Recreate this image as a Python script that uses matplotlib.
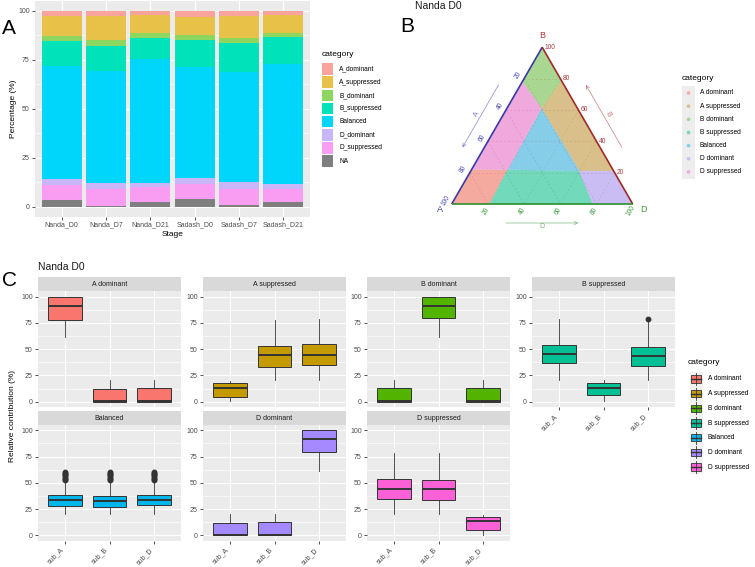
import matplotlib
matplotlib.use("Agg")
import matplotlib.pyplot as plt
import numpy as np
from matplotlib.patches import Polygon, Rectangle, Circle

plt.rcParams['font.family'] = ['Liberation Sans', 'DejaVu Sans']

# ---------------- data ----------------
stages = ["Nanda_D0", "Nanda_D7", "Nanda_D21", "Sadash_D0", "Sadash_D7", "Sadash_D21"]
bar_categories = ["A_dominant", "A_suppressed", "B_dominant", "B_suppressed",
                  "Balanced", "D_dominant", "D_suppressed", "NA"]
bar_colors = ["#F8A39B", "#E8C148", "#8DD760", "#00E3BA", "#00D6FC", "#C9B6F8", "#F99DF3", "#7F7F7F"]
# percentage per category, columns follow stages
pct_A_dominant = [2.7, 2.7, 2.4, 3.2, 2.7, 2.2]
pct_A_suppressed = [10.1, 12.3, 8.8, 9.2, 11.1, 9.0]
pct_B_dominant = [2.7, 2.9, 2.6, 2.6, 2.5, 2.4]
pct_B_suppressed = [12.9, 12.7, 11.0, 13.9, 14.8, 13.8]
pct_Balanced = [57.5, 57.3, 63.1, 56.5, 56.5, 60.9]
pct_D_dominant = [3.2, 3.3, 2.2, 2.9, 3.6, 2.9]
pct_D_suppressed = [7.7, 8.3, 7.3, 7.8, 7.8, 6.2]
pct_NA = [3.2, 0.5, 2.6, 3.9, 1.0, 2.6]
bar_values = [pct_A_dominant, pct_A_suppressed, pct_B_dominant, pct_B_suppressed,
              pct_Balanced, pct_D_dominant, pct_D_suppressed, pct_NA]

# ternary regions, vertices as (A, B, D) percent
tern_categories = ["A dominant", "A suppressed", "B dominant", "B suppressed",
                   "Balanced", "D dominant", "D suppressed"]
tern_colors = ["#F5AA9F", "#D9C08A", "#A9D690", "#72D9BA", "#85CDE9", "#C9BDF3", "#F0A9DC"]
tern_regions = [
    [(100, 0, 0), (78, 22, 0), (58, 22, 20), (79, 0, 21)],
    [(0, 79, 21), (20, 61, 19), (19, 21, 60), (0, 21, 79)],
    [(0, 100, 0), (22, 78, 0), (20, 61, 19), (0, 79, 21)],
    [(79, 0, 21), (58, 22, 20), (19, 21, 60), (22, 0, 78)],
    [(20, 61, 19), (58, 22, 20), (19, 21, 60)],
    [(22, 0, 78), (19, 21, 60), (0, 21, 79), (0, 0, 100)],
    [(22, 78, 0), (20, 61, 19), (58, 22, 20), (78, 22, 0)],
]
tern_ticks = [20, 40, 60, 80, 100]

# box plots
box_panels = ["A dominant", "A suppressed", "B dominant", "B suppressed",
              "Balanced", "D dominant", "D suppressed"]
box_colors = ["#F8766D", "#C49A00", "#53B400", "#00C094", "#00B6EB", "#A58AFF", "#FB61D7"]
subgenomes = ["sub_A", "sub_B", "sub_D"]
box_q1 = [[77.5, 0, 0], [4.8, 33.3, 35.2], [0, 79.4, 0], [36.5, 6.4, 34.3],
          [27.6, 27.3, 28.6], [0, 0, 79.7], [35, 34, 4.8]]
box_med = [[91.4, 1, 0.6], [13.3, 44.5, 44.5], [0.6, 91.1, 0.8], [45.4, 13.3, 43.8],
           [33.3, 32.7, 33.7], [0.5, 0.5, 91.4], [44.1, 44.4, 13.6]]
box_q3 = [[100, 12.1, 13.3], [17.5, 53, 55], [13.3, 100, 13.3], [54, 17.5, 51.8],
          [38.4, 37.8, 38.7], [12.1, 12.7, 100], [54, 53, 17.5]]
box_lo = [[61.6, 0, 0], [0.5, 20.6, 20.6], [0, 61.9, 0], [20.6, 1, 20.6],
          [20, 20, 20], [0, 0, 61.3], [20.6, 20.6, 0.7]]
box_hi = [[100, 20.4, 20.4], [19.7, 77.8, 78.4], [20.4, 100, 20.4], [78.4, 20.4, 76.2],
          [51.7, 52, 52.5], [20, 20, 100], [78.7, 78, 19.7]]
bal_out = [53, 54, 55, 56, 57, 58, 59, 60]
box_out = [[[], [], []], [[], [], []], [[], [], []], [[], [], [79]],
           [bal_out, bal_out, bal_out], [[], [], []], [[], [], []]]

# ---------------- layout helpers ----------------
W, H = 755, 567
fig = plt.figure(figsize=(W / 100, H / 100), dpi=100)


def rect(x0, y0, x1, y1):
    return [x0 / W, 1 - y1 / H, (x1 - x0) / W, (y1 - y0) / H]


TXT = "#4D4D4D"
TICK = "#333333"


def gg_axes(ax):
    ax.set_facecolor("#EBEBEB")
    for s in ax.spines.values():
        s.set_visible(False)
    ax.grid(True, which="major", color="white", lw=0.8, zorder=0)
    ax.grid(True, which="minor", axis="y", color="white", lw=0.4, zorder=0)
    ax.set_axisbelow(True)
    ax.tick_params(which="major", length=2.2, width=0.6, color=TICK,
                   labelsize=5, labelcolor=TXT, pad=1.5)
    ax.tick_params(which="minor", length=0)


# ---------------- panel A ----------------
axA = fig.add_axes(rect(35, 1, 310, 216.5))
gg_axes(axA)
x = np.arange(1, len(stages) + 1)
bottom = np.zeros(len(stages))
for cat, vals, col in list(zip(bar_categories, bar_values, bar_colors))[::-1]:
    axA.bar(x, vals, 0.9, bottom=bottom, color=col, zorder=2, lw=0)
    bottom += np.array(vals)
axA.set_xlim(0.4, 6.6)
axA.set_ylim(-5, 105)
axA.set_xticks(x)
axA.set_xticklabels(stages)
axA.set_yticks([0, 25, 50, 75, 100])
axA.set_yticks([12.5, 37.5, 62.5, 87.5], minor=True)
axA.set_xlabel("Stage", fontsize=6, labelpad=1.5)
axA.set_ylabel("Percentage (%)", fontsize=6, labelpad=1)

# ---------------- panel B (ternary) ----------------
S = 181.0  # pixels per unit side
axB = fig.add_axes(rect(420, 25, 660, 235))
axB.set_xlim(-31.7 / S, 208.3 / S)
axB.set_ylim(-31.0 / S, 179.0 / S)
axB.axis("off")
r3 = np.sqrt(3) / 2


def tern(a, b, d):
    t = a + b + d
    return ((d + b / 2) / t, b * r3 / t)


for verts, col in zip(tern_regions, tern_colors):
    axB.add_patch(Polygon([tern(*v) for v in verts], closed=True, fc=col, ec=col, lw=0.3))

VA, VB, VD = np.array(tern(1, 0, 0)), np.array(tern(0, 1, 0)), np.array(tern(0, 0, 1))
blue, red, green = "#3A3AA6", "#9E2A2A", "#2F8F2F"
blue_t, red_t, green_t = "#4646B0", "#A83A3A", "#3A9A3A"

# faint dashed grid lines
for t in tern_ticks[:-1]:
    axB.plot(*zip(tern(t, 100 - t, 0), tern(t, 0, 100 - t)), color=blue, lw=0.4,
             ls=(0, (3, 4)), alpha=0.25)
    axB.plot(*zip(tern(100 - t, t, 0), tern(0, t, 100 - t)), color=red, lw=0.4,
             ls=(0, (3, 4)), alpha=0.25)
    axB.plot(*zip(tern(100 - t, 0, t), tern(0, 100 - t, t)), color=green, lw=0.4,
             ls=(0, (3, 4)), alpha=0.25)

axB.plot(*zip(VB, VA), color=blue, lw=1.2, solid_capstyle="butt")
axB.plot(*zip(VB, VD), color=red, lw=1.2, solid_capstyle="butt")
axB.plot(*zip(VA, VD), color=green, lw=1.2, solid_capstyle="butt")

nL = np.array([-0.866, 0.5])
nR = np.array([0.866, 0.5])
nB = np.array([0.0, -1.0])
for t in tern_ticks:
    p = np.array(tern(t, 100 - t, 0)) + nL * 7 / S
    axB.text(*p, str(t), color=blue_t, fontsize=4.8, rotation=60, ha="center", va="center")
    p = np.array(tern(0, t, 100 - t)) + np.array([2, 0]) / S
    axB.text(*p, str(t), color=red_t, fontsize=4.8, ha="left", va="center")
    p = np.array(tern(100 - t, 0, t)) + np.array([-2, -7]) / S
    axB.text(*p, str(t), color=green_t, fontsize=4.8, rotation=60, ha="center", va="center")

axB.text(*(VA + np.array([-12, -6]) / S), "A", color=blue_t, fontsize=6.5, ha="center", va="center")
axB.text(*(VD + np.array([11, -6]) / S), "D", color=green_t, fontsize=6.5, ha="center", va="center")
axB.text(*(VB + np.array([0, 12]) / S), "B", color=red_t, fontsize=6.5, ha="center", va="center")


def edge_arrow(p0, p1, n, col, lab, rot):
    a0 = p0 + 0.3 * (p1 - p0) + n * 19 / S
    a1 = p0 + 0.7 * (p1 - p0) + n * 19 / S
    axB.annotate("", xy=a1, xytext=a0,
                 arrowprops=dict(arrowstyle="->", color=col, lw=0.6, alpha=0.55,
                                 shrinkA=0, shrinkB=0, mutation_scale=6))
    m = p0 + 0.5 * (p1 - p0) + n * 23 / S
    axB.text(*m, lab, color=col, alpha=0.7, fontsize=5, rotation=rot, ha="center", va="center")


edge_arrow(VB, VA, nL, blue_t, "A", 60)
edge_arrow(VD, VB, nR, red_t, "B", -60)
edge_arrow(VA, VD, nB, green_t, "D", 0)

# ---------------- panel C (box plots) ----------------
col_x = [38, 203, 367, 532]
row_y = [(291.4, 407), (425, 540.5)]
for k, name in enumerate(box_panels):
    r, c = divmod(k, 4)
    y0, y1 = row_y[r]
    ax = fig.add_axes(rect(col_x[c], y0, col_x[c] + 143, y1))
    gg_axes(ax)
    stats = [dict(med=box_med[k][j], q1=box_q1[k][j], q3=box_q3[k][j],
                  whislo=box_lo[k][j], whishi=box_hi[k][j], fliers=box_out[k][j])
             for j in range(3)]
    ax.bxp(stats, positions=[1, 2, 3], widths=0.75, patch_artist=True, showcaps=False,
           boxprops=dict(facecolor=box_colors[k], edgecolor="#333333", lw=0.7),
           medianprops=dict(color="#333333", lw=1.4),
           whiskerprops=dict(color="#333333", lw=0.6),
           flierprops=dict(marker="o", markerfacecolor="#333333", markeredgecolor="#333333",
                           markersize=3.2, lw=0))
    ax.set_xlim(0.4, 3.6)
    ax.set_ylim(-5, 105)
    ax.set_yticks([0, 25, 50, 75, 100])
    ax.set_yticks([12.5, 37.5, 62.5, 87.5], minor=True)
    ax.set_xticks([1, 2, 3])
    if k >= 3:
        ax.set_xticklabels(subgenomes, rotation=45, ha="right", va="top")
        ax.tick_params(axis="x", pad=2)
    else:
        ax.set_xticklabels([])
        ax.tick_params(axis="x", length=0)
    sh = 14 / (y1 - y0)
    ax.add_patch(Rectangle((0, 1), 1, sh, transform=ax.transAxes, clip_on=False,
                           fc="#D9D9D9", ec="none"))
    ax.text(0.5, 1 + sh / 2, name, transform=ax.transAxes, ha="center", va="center",
            fontsize=5, color="#1A1A1A")

# ---------------- overlay: legends, titles, panel letters ----------------
ov = fig.add_axes([0, 0, 1, 1])
ov.set_xlim(0, W)
ov.set_ylim(H, 0)
ov.axis("off")
ov.patch.set_visible(False)

ov.text(2, 29, "A", fontsize=15, ha="left", va="center")
ov.text(400, 26, "B", fontsize=15, ha="left", va="center")
ov.text(2, 281, "C", fontsize=15, ha="left", va="center")
ov.text(415, 6, "Nanda D0", fontsize=7.5, ha="left", va="center", color="#1A1A1A")
ov.text(38, 267, "Nanda D0", fontsize=7.5, ha="left", va="center", color="#1A1A1A")
ov.text(13, 416, "Relative contribution (%)", fontsize=6, rotation=90, ha="center", va="center")

# legend A
ov.text(322, 55, "category", fontsize=6, ha="left", va="center")
for i, (cat, col) in enumerate(zip(bar_categories, bar_colors)):
    yc = 69 + 13.15 * i
    ov.add_patch(Rectangle((321.7, yc - 5.8), 11.6, 11.6, fc=col, ec="none"))
    ov.text(339, yc, cat, fontsize=4.8, ha="left", va="center")

# legend B
ov.text(682, 78, "category", fontsize=6, ha="left", va="center")
for i, (cat, col) in enumerate(zip(tern_categories, tern_colors)):
    yc = 93 + 13.15 * i
    ov.add_patch(Rectangle((682, yc - 6.6), 13, 13.2, fc="#EDEDED", ec="none"))
    ov.add_patch(Circle((688.5, yc), 1.8, fc=col, ec="none"))
    ov.text(700, yc, cat, fontsize=4.8, ha="left", va="center")

# legend C
ov.text(688, 362, "category", fontsize=6, ha="left", va="center")
for i, (cat, col) in enumerate(zip(box_panels, box_colors)):
    yc = 379 + 14.67 * i
    ov.add_patch(Rectangle((689.5, yc - 7.3), 13, 14.6, fc="#F2F2F2", ec="none"))
    ov.plot([696, 696], [yc - 6, yc + 6], color="#333333", lw=0.6)
    ov.add_patch(Rectangle((691, yc - 3.6), 10, 7.2, fc=col, ec="#333333", lw=0.6))
    ov.plot([691, 701], [yc, yc], color="#333333", lw=1.0)
    ov.text(708, yc, cat, fontsize=4.8, ha="left", va="center")

fig.savefig("out.png", dpi=100)
